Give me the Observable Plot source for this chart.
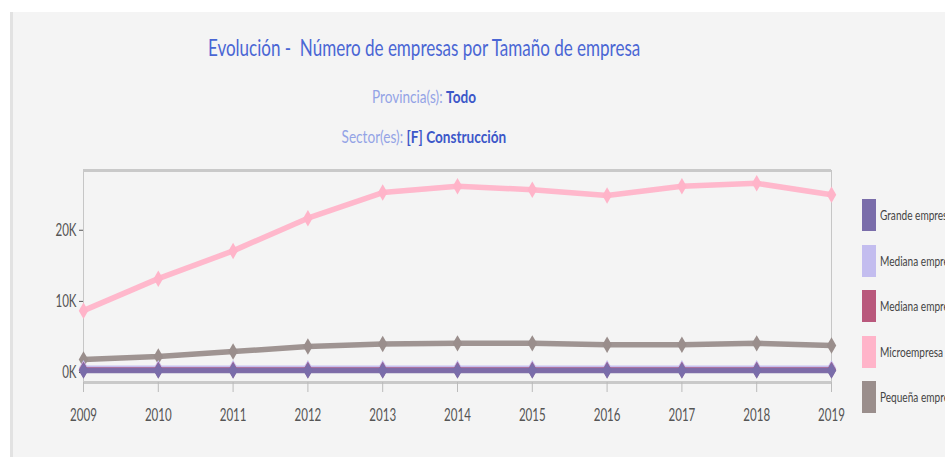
<!DOCTYPE html>
<html>
<head>
<meta charset="utf-8">
<script src="https://cdn.jsdelivr.net/npm/d3@7"></script>
<script src="https://cdn.jsdelivr.net/npm/@observablehq/plot@0.6"></script>
<style>
  html, body { margin: 0; padding: 0; background: #ffffff; }
  body { width: 945px; height: 458px; position: relative; overflow: hidden; }
  #toptext { position: absolute; left: 0; top: 0; width: 945px; height: 12px; overflow: hidden; }
  #toptext span { position: absolute; left: -2px; top: -30px; font: italic bold 27px "Liberation Serif", serif; color: #111; white-space: nowrap; }
  #panel { position: absolute; left: 10px; top: 12px; width: 935px; height: 445px; background: #f4f4f4; border-left: 3px solid #e2e2e2; box-sizing: border-box; }
  #chart { position: absolute; left: 0; top: 0; }
  .ttl { position: absolute; left: 0; width: 848px; text-align: center; white-space: nowrap; font-family: "Lato", "Open Sans", sans-serif; }
  .ttl span.in { display: inline-block; transform: scaleX(0.8); transform-origin: center; }
  #title span.in { transform: scaleX(0.74); }
  #title { top: 33px; font-size: 23px; color: #4a66d4; }
  #sub1 { top: 86px; font-size: 17px; color: #93a3e6; }
  #sub2 { top: 126px; font-size: 17px; color: #93a3e6; }
  .ttl b { color: #3c57c9; font-weight: 700; }
  .leg { position: absolute; left: 862px; width: 14px; height: 32px; }
  .legl { position: absolute; left: 880px; font-family: "Lato", sans-serif; font-size: 14px; color: #444; white-space: nowrap; line-height: 32px; transform: scaleX(0.72); transform-origin: left center; }
</style>
</head>
<body>
<div id="toptext"><span>Evolución del número de empresas por tamaño</span></div>
<div id="panel"></div>
<div id="chart"></div>
<div class="ttl" id="title"><span class="in">Evolución -&nbsp; Número de empresas por Tamaño de empresa</span></div>
<div class="ttl" id="sub1"><span class="in">Provincia(s): <b>Todo</b></span></div>
<div class="ttl" id="sub2"><span class="in">Sector(es): <b>[F] Construcción</b></span></div>
<div id="legend"></div>
<script>
const years = [2009, 2010, 2011, 2012, 2013, 2014, 2015, 2016, 2017, 2018, 2019];
const seriesNames = ["Grande empresa", "Mediana empresa (50-99)", "Mediana empresa (100-249)", "Microempresa", "Pequeña empresa"];
const seriesColors = ["#7a6daa", "#c3bdef", "#b9587c", "#ffb4c9", "#9a8e8c"];
const grande   = [300, 300, 300, 300, 300, 300, 300, 300, 300, 300, 300];
const medianaA = [600, 600, 600, 600, 600, 600, 600, 600, 600, 600, 600];
const medianaB = [350, 350, 350, 350, 350, 350, 350, 350, 350, 350, 350];
const micro    = [8700, 13200, 17100, 21700, 25300, 26200, 25700, 24900, 26200, 26600, 25000];
const pequena  = [1850, 2250, 2950, 3650, 4000, 4100, 4100, 3900, 3900, 4100, 3800];
const yTicks = [0, 10000, 20000];
const yDomain = [-1400, 28400];

const valuesBySeries = [grande, medianaA, medianaB, micro, pequena];
const rows = [];
valuesBySeries.forEach((vals, i) => vals.forEach((v, j) => rows.push({series: seriesNames[i], year: years[j], value: v})));
// draw order: Micro, Pequeña, Mediana light, Mediana red, Grande on top
const drawOrder = [3, 4, 1, 2, 0];

const marks = [
  Plot.frame({stroke: "#c6c6c6", strokeWidth: 1}),
  Plot.ruleY([yDomain[1]], {stroke: "#c9c9c9", strokeWidth: 3}),
  Plot.ruleY([yDomain[0]], {stroke: "#c9c9c9", strokeWidth: 3}),
  Plot.axisX({ticks: years, tickFormat: d => String(d), label: null, tickSize: 10, tickPadding: 16, fontSize: 17, color: "#555", stroke: "#bbb"}),
  Plot.axisY({ticks: yTicks, tickFormat: d => (d / 1000) + "K", label: null, tickSize: 4, tickPadding: 3, fontSize: 17, color: "#555"})
];
for (const i of drawOrder) {
  const data = rows.filter(r => r.series === seriesNames[i]);
  marks.push(Plot.line(data, {x: "year", y: "value", stroke: seriesColors[i], strokeWidth: 5.5, strokeOpacity: 0.95}));
  marks.push(Plot.dot(data, {x: "year", y: "value", fill: seriesColors[i], symbol: "diamond", r: 5}));
}

const chart = Plot.plot({
  width: 945,
  height: 458,
  marginTop: 170,
  marginBottom: 76,
  marginLeft: 83,
  marginRight: 114,
  style: {background: "transparent", fontFamily: "Lato, sans-serif"},
  x: {domain: [2009, 2019], axis: null, label: null},
  y: {domain: yDomain, axis: null, label: null},
  marks
});
document.getElementById("chart").appendChild(chart);

// horizontally compress tick labels (condensed look of the reference)
d3.select(chart).selectAll('g[aria-label="x-axis tick label"] text, g[aria-label="y-axis tick label"] text')
  .attr("transform", function() { return (this.getAttribute("transform") || "") + " scale(0.68,1)"; });

const legend = document.getElementById("legend");
seriesNames.forEach((name, i) => {
  const top = 199 + i * 45.5;
  const sw = document.createElement("div");
  sw.className = "leg";
  sw.style.top = top + "px";
  sw.style.background = seriesColors[i];
  legend.appendChild(sw);
  const lb = document.createElement("div");
  lb.className = "legl";
  lb.style.top = top + "px";
  lb.textContent = name;
  legend.appendChild(lb);
});
</script>
</body>
</html>
